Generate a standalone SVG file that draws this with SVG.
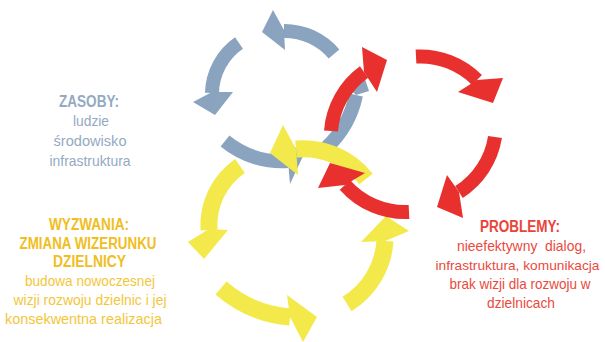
<svg xmlns="http://www.w3.org/2000/svg" width="605" height="342" viewBox="0 0 605 342">
<style>
path{fill:none;stroke-linecap:butt}
.blue path{stroke:#8aa4bf;stroke-width:14}
.blue polygon{fill:#8aa4bf}
.red path{stroke:#e8302e;stroke-width:14}
.red polygon{fill:#e8302e}
.yel path{stroke:#f4e94b;stroke-width:17}
.yel polygon{fill:#f4e94b}
text{font-family:"Liberation Sans",Arial,sans-serif;text-anchor:middle;font-size:15px}
.h{font-weight:bold;font-size:16px}
.tb{fill:#94aac3}
.ty{fill:#f3c63a}
.ty.h{fill:#f0be22}
.tr{fill:#ea4a3e}
.tr.h{fill:#e9443a}
.sm{font-size:13.5px}
</style>
<rect width="605" height="342" fill="#ffffff"/>
<g id="connectors">
 <g id="cycle-zasoby" class="blue">
  <path d="M334,54 A65,65 0 0 0 284,31"/>
  <polygon points="262,32 273,10 284,30 285,50"/>
  <path d="M239,43 A62,62 0 0 0 212,93"/>
  <polygon points="215,115 193,102 212,92 233,92"/>
  <path d="M225,141 A90,90 0 0 0 288,161"/>
  <polygon points="304,154 290,184 288,161 285,140"/>
  <path d="M326,148 A100,100 0 0 0 356,95"/>
  <polygon points="364,76 369,91 356,95 347,86"/>
 </g>
 <g id="cycle-wyzwania" class="yel">
  <path d="M366,179 A80,80 0 0 0 296,149"/>
  <polygon points="270,153 283,125 296,149 298,175"/>
  <path d="M240,166 A72,72 0 0 0 209,230"/>
  <polygon points="204,259 188,242 209,229 228,230"/>
  <path d="M221,288 A120,120 0 0 0 290,317"/>
  <polygon points="317,317 287,295 290,317 303,342"/>
  <path d="M347,304 A80,80 0 0 0 385,241"/>
  <polygon points="386,216 361,242 385,241 409,231"/>
 </g>
 <g id="cycle-problemy" class="red">
  <path d="M331,131 A80,80 0 0 1 364,72"/>
  <polygon points="387,60 377,92 364,72 362,47"/>
  <path d="M416,56.5 A80,80 0 0 1 477,80"/>
  <polygon points="493,103 458,92 477,80 503,78"/>
  <path d="M495,137 A80,80 0 0 1 459,192"/>
  <polygon points="437,207 447,175 459,192 463,218"/>
  <path d="M409,212 A80,80 0 0 1 345,185"/>
  <polygon points="330,163 365,173 345,185 318,188"/>
 </g>
</g>
<g id="zasoby">
 <text class="tb h" x="89" y="107" textLength="60" lengthAdjust="spacingAndGlyphs">ZASOBY:</text>
 <text class="tb" x="91" y="125.5" textLength="36" lengthAdjust="spacingAndGlyphs">ludzie</text>
 <text class="tb" x="90" y="145.5" textLength="73" lengthAdjust="spacingAndGlyphs">środowisko</text>
 <text class="tb" x="90" y="165.5" textLength="81" lengthAdjust="spacingAndGlyphs">infrastruktura</text>
</g>
<g id="wyzwania">
 <text class="ty h" x="89" y="230" textLength="80" lengthAdjust="spacingAndGlyphs">WYZWANIA:</text>
 <text class="ty h" x="88" y="248.5" textLength="137" lengthAdjust="spacingAndGlyphs">ZMIANA WIZERUNKU</text>
 <text class="ty h" x="89.5" y="267" textLength="73" lengthAdjust="spacingAndGlyphs">DZIELNICY</text>
 <text class="ty" x="90" y="286" textLength="130" lengthAdjust="spacingAndGlyphs">budowa nowoczesnej</text>
 <text class="ty" x="90" y="305" textLength="153" lengthAdjust="spacingAndGlyphs">wizji rozwoju dzielnic i jej</text>
 <text class="ty" x="83.5" y="324" textLength="157" lengthAdjust="spacingAndGlyphs">konsekwentna realizacja</text>
</g>
<g id="problemy">
 <text class="tr h" x="520" y="231.5" textLength="80" lengthAdjust="spacingAndGlyphs">PROBLEMY:</text>
 <text class="tr" x="521.5" y="250.5" textLength="129" lengthAdjust="spacingAndGlyphs" xml:space="preserve">nieefektywny  dialog,</text>
 <text class="tr sm" x="517.5" y="269.5" textLength="164" lengthAdjust="spacingAndGlyphs">infrastruktura, komunikacja</text>
 <text class="tr" x="520" y="288.5" textLength="141" lengthAdjust="spacingAndGlyphs">brak wizji dla rozwoju w</text>
 <text class="tr" x="521" y="307.5" textLength="68" lengthAdjust="spacingAndGlyphs">dzielnicach</text>
</g>
</svg>
